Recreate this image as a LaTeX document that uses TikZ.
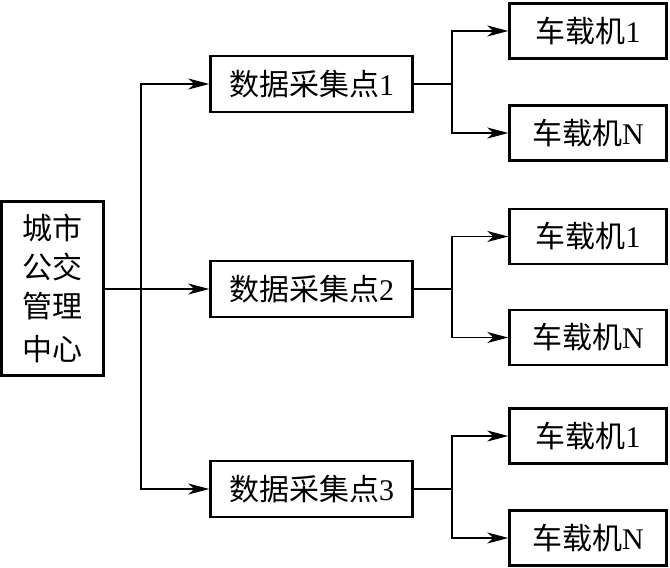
\documentclass[tikz,border=0pt]{standalone}
\usepackage{fontspec}
\setmainfont{Liberation Serif}
\newfontfamily\cjk{Noto Sans CJK SC}
\usetikzlibrary{arrows.meta}
\begin{document}
\begin{tikzpicture}[x=1pt,y=-1pt,
  box/.style={draw, line width=2.4pt, inner sep=0pt, font=\fontsize{30}{39}\selectfont},
  lbox/.style={box, minimum width=102pt, minimum height=174pt, align=center},
  mbox/.style={box, minimum width=202pt, minimum height=56pt},
  rbox/.style={box, minimum width=157pt, minimum height=55pt},
  conn/.style={line width=1.8pt},
  arr/.style={conn, -{Stealth[length=21pt,width=11pt,inset=6pt]}}]
\useasboundingbox (0,0) rectangle (670,568);
\node[lbox] (L) at (52.5,288.5) {{\cjk 城市}\\{\cjk 公交}\\{\cjk 管理}\\[4pt]{\cjk 中心}};
\node[mbox] (M1) at (311.5,84) {{\cjk 数据采集点}1};
\node[mbox] (M2) at (311.5,289) {{\cjk 数据采集点}2};
\node[mbox] (M3) at (311.5,489) {{\cjk 数据采集点}3};
\node[rbox] (R11) at (588,31) {{\cjk 车载机}1};
\node[rbox] (R1N) at (588,133) {{\cjk 车载机}N};
\node[rbox] (R21) at (588,236.5) {{\cjk 车载机}1};
\node[rbox] (R2N) at (588,337.5) {{\cjk 车载机}N};
\node[rbox] (R31) at (588,436) {{\cjk 车载机}1};
\node[rbox] (R3N) at (588,538) {{\cjk 车载机}N};
\coordinate (t) at (141,289);
\coordinate (b1) at (452,84);
\coordinate (b2) at (452,289);
\coordinate (b3) at (452,489);
\draw[arr] (L.east |- t) -- (M2.west);
\draw[arr] (t) |- (M1.west);
\draw[arr] (t) |- (M3.west);
\draw[conn] (M1.east) -- (b1);
\draw[arr] (b1) |- (R11.west);
\draw[arr] (b1) |- (R1N.west);
\draw[conn] (M2.east) -- (b2);
\draw[arr] (b2) |- (R21.west);
\draw[arr] (b2) |- (R2N.west);
\draw[conn] (M3.east) -- (b3);
\draw[arr] (b3) |- (R31.west);
\draw[arr] (b3) |- (R3N.west);
\end{tikzpicture}
\end{document}
